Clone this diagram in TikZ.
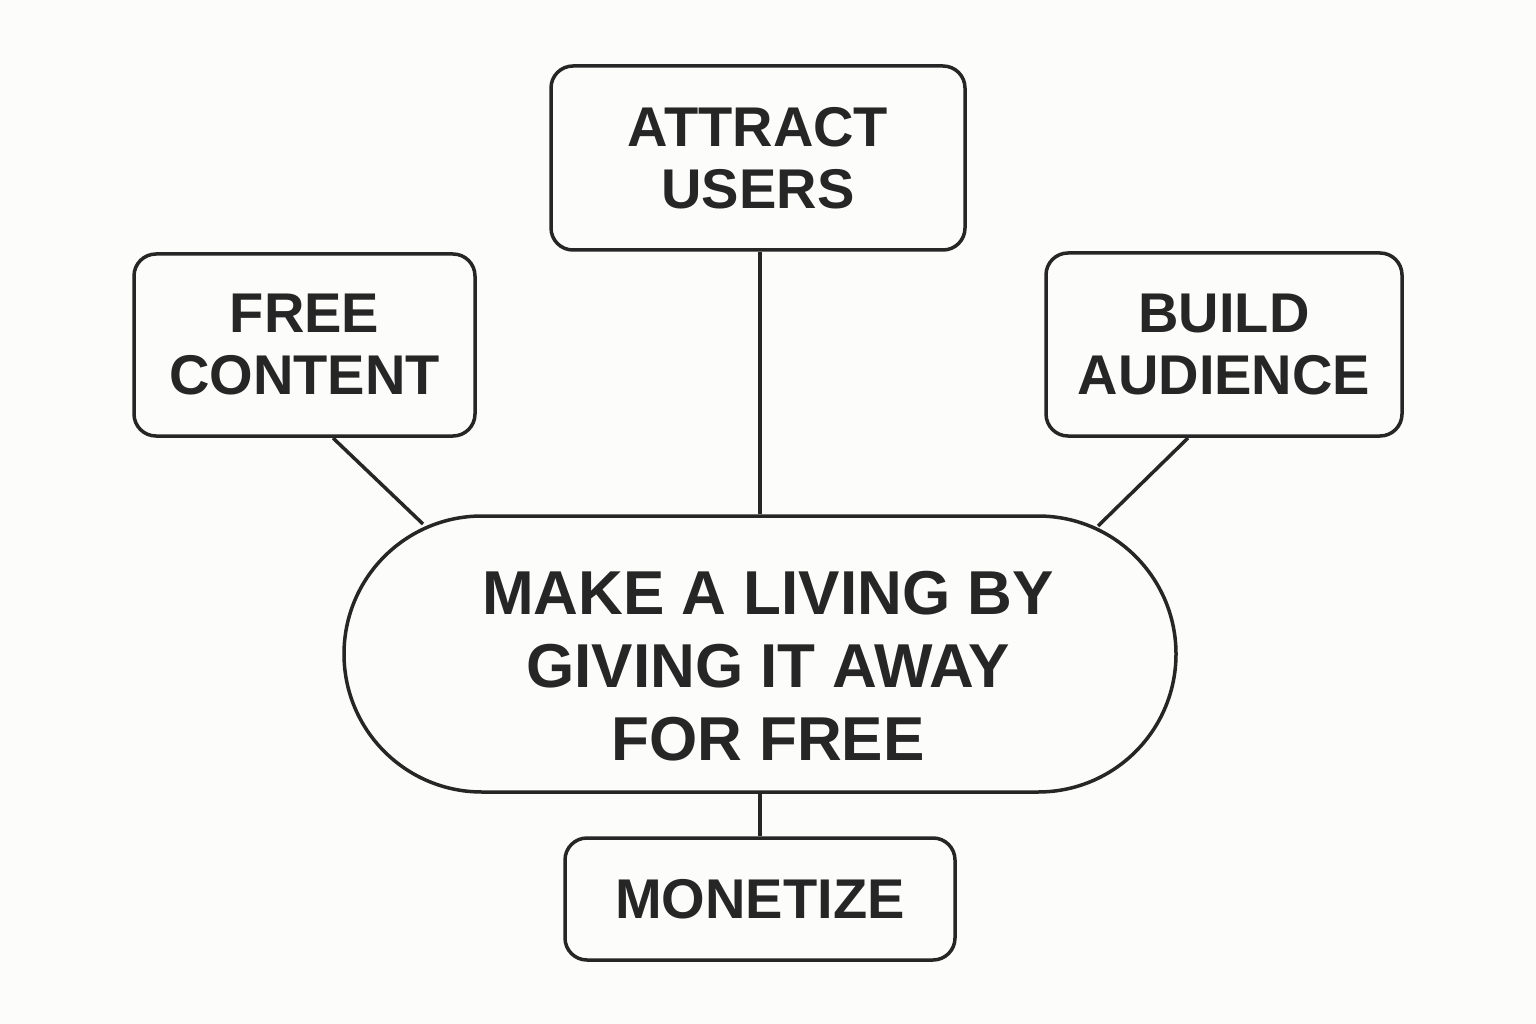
\documentclass[tikz,border=0pt]{standalone}
\usepackage{fontspec}
\setmainfont{Liberation Sans}
\definecolor{ink}{HTML}{262626}
\definecolor{bg}{HTML}{FCFCFB}
\begin{document}
\begin{tikzpicture}[x=1pt,y=-1pt,
  box/.style={draw=ink,line width=3.5pt,rounded corners=22pt,align=center,inner sep=0pt,
    font=\fontsize{56}{62}\selectfont\bfseries,text=ink},
  link/.style={draw=ink,line width=3.5pt}]
\fill[bg] (0,0) rectangle (1536,1024);
\useasboundingbox (0,0) rectangle (1536,1024);
\node[box,minimum width=414pt,minimum height=184pt] (att) at (758,158) {ATTRACT\\USERS};
\node[box,minimum width=341pt,minimum height=182pt] (fc) at (304.5,345) {FREE\\CONTENT};
\node[box,minimum width=356pt,minimum height=183pt] (ba) at (1224,344.5) {BUILD\\AUDIENCE};
\node[box,minimum width=390pt,minimum height=122pt] (mon) at (760,899) {MONETIZE};
\node[box,rounded corners=138pt,minimum width=832pt,minimum height=276pt] (c) at (760,654) {};
\node[align=center,inner sep=0pt,text=ink,font=\fontsize{62}{73}\selectfont\bfseries] (ct) at (768,666) {MAKE A LIVING BY\\GIVING IT AWAY\\FOR FREE};
\coordinate (p1) at (333,438); \coordinate (q1) at (423,524);
\coordinate (p2) at (1188,438); \coordinate (q2) at (1098,526);
\draw[link] (c.north) -- (c.north |- att.south);
\draw[link] (p1) -- (q1);
\draw[link] (p2) -- (q2);
\draw[link] (c.south) -- (mon.north);
\end{tikzpicture}
\end{document}
